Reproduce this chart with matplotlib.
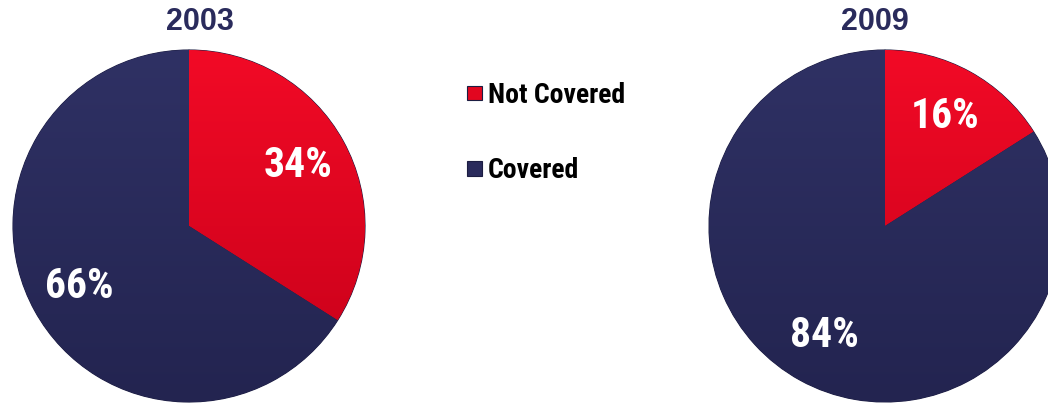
import matplotlib
matplotlib.use("Agg")
import matplotlib.pyplot as plt
import numpy as np
from matplotlib.colors import to_rgb

COND = ["Roboto Condensed", "PT Sans Narrow", "DejaVu Sans"]
REG = ["Liberation Sans", "DejaVu Sans"]

categories = ["Not Covered", "Covered"]
years = ["2003", "2009"]
values_2003 = [34, 66]
values_2009 = [16, 84]
colors = ["#e2061f", "#2a2b5c"]
grad_top = ["#f20a26", "#2f3164"]
grad_bot = ["#c60019", "#232450"]
navy_text = "#2a2b5c"

W, H = 1048, 404
fig = plt.figure(figsize=(W / 100, H / 100), dpi=100)

R = 176
centers = [(189, 226), (885, 226)]
title_pos = [(200, 22), (875, 22)]
wedges_ref = None
for (cx, cy), vals, yr, (tx, ty) in zip(centers, [values_2003, values_2009], years, title_pos):
    ax = fig.add_axes([(cx - R) / W, (H - cy - R) / H, 2 * R / W, 2 * R / H])
    wedges, texts, autotexts = ax.pie(
        vals, colors=colors, startangle=90, counterclock=False,
        autopct=lambda p: f"{p:.0f}%", pctdistance=0.71,
        wedgeprops=dict(edgecolor="#1c1d42", linewidth=0.8),
        textprops=dict(color="white", fontsize=30, fontweight="bold", family=COND))
    ax.set_aspect("equal")
    for i, w in enumerate(wedges):
        t = np.array(to_rgb(grad_top[i]))
        b = np.array(to_rgb(grad_bot[i]))
        f = np.linspace(0, 1, 256)[:, None]
        img = (t[None, :] * (1 - f) + b[None, :] * f)[:, None, :]
        im = ax.imshow(img, extent=[-1, 1, -1, 1], origin="upper", aspect="auto",
                       zorder=w.get_zorder() + 0.1, interpolation="bilinear")
        im.set_clip_path(w)
    ax.set_xlim(-1.0, 1.0)
    ax.set_ylim(-1.0, 1.0)
    for at in autotexts:
        at.set_zorder(10)
    if wedges_ref is None:
        wedges_ref = wedges
    fig.text(tx / W, 1 - ty / H, yr, ha="center", va="center",
             fontsize=22, fontweight="bold", color=navy_text, family=REG)

leg = fig.legend(wedges_ref, categories, loc="upper left",
                 bbox_to_anchor=(467 / W, 1 - 82 / H), frameon=False,
                 prop=dict(size=20, weight="bold", family=COND), labelspacing=1.74,
                 handlelength=0.54, handleheight=0.43, handletextpad=0.22,
                 borderpad=0, borderaxespad=0)

fig.savefig("out.png", dpi=100, facecolor="white")
